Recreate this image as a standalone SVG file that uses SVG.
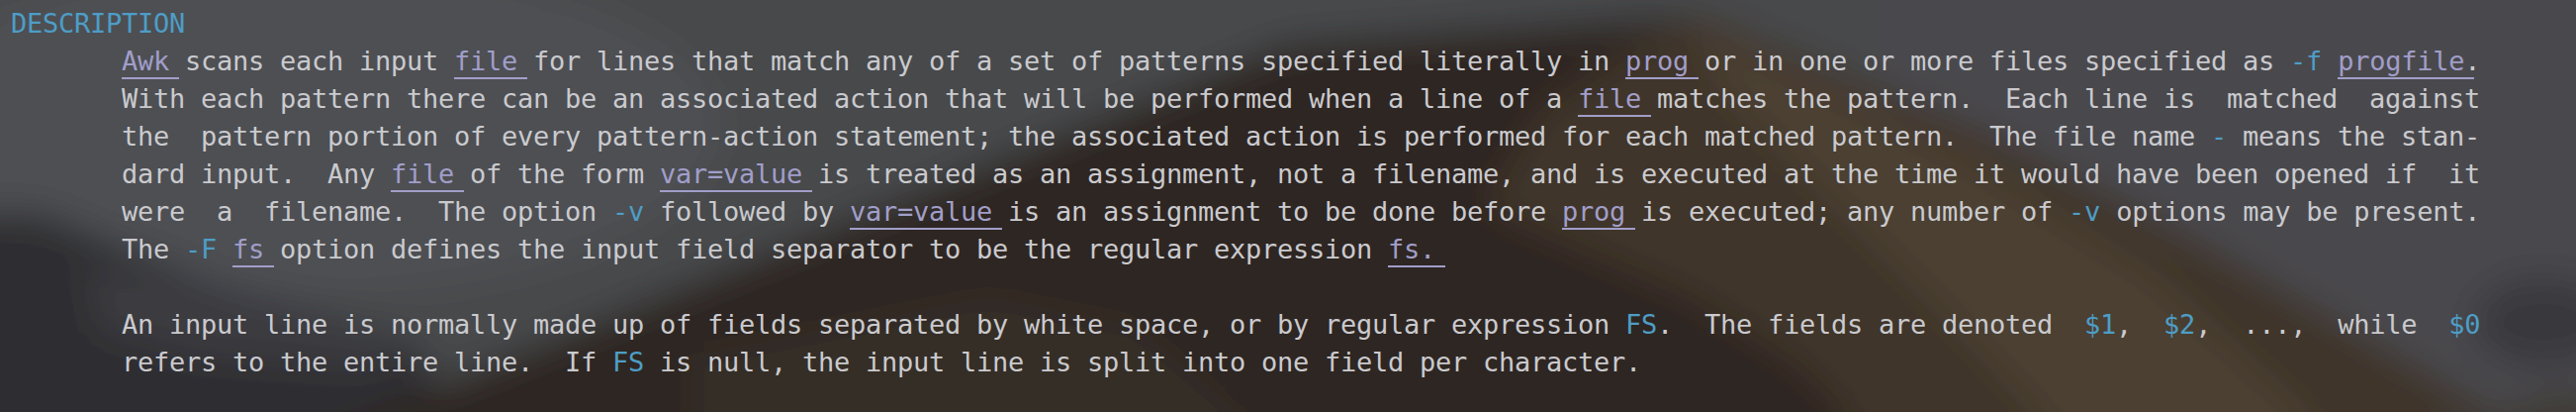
<svg xmlns="http://www.w3.org/2000/svg" width="2604" height="416" viewBox="0 0 2604 416">
<style>
  text { font-family: "DejaVu Sans Mono", "Liberation Mono", monospace; font-size: 27px; letter-spacing: -0.255px; fill: #cacace; white-space: pre; }
  .b { fill: #4e9dc6; }
  .u { fill: #a19ec9; }
  .ul line { stroke: #a19ec9; stroke-width: 2; }
</style>
<defs>
  <filter id="blur" x="-10%" y="-30%" width="120%" height="160%">
    <feGaussianBlur stdDeviation="18"/>
  </filter>
</defs>
<g id="backdrop" filter="url(#blur)">
  <rect x="-120" y="-120" width="2844" height="656" fill="#46484c"/>
  <ellipse cx="300" cy="130" rx="430" ry="170" fill="#4d4f53"/>
  <rect x="1900" y="-120" width="824" height="656" fill="#4a4a4d"/>
  <polygon points="-120,215 40,215 125,250 220,285 330,315 430,360 480,536 -120,536" fill="#2d2e31"/>
  <polygon points="85,270 200,280 320,312 415,340 380,372 200,360 100,335" fill="#3a3b3f"/>
  <polygon points="330,436 1302,45 1704,16 1732,20 2007,133 2204,233 2380,333 2521,416 2560,536 330,536" fill="#2d2723"/>
  <polygon points="700,360 1000,300 1150,330 1250,416 1250,536 700,536" fill="#352d27"/>
  <polygon points="1704,16 1732,20 2007,133 2204,233 2380,333 2521,416 2545,536 1885,536 1866,416 1817,367 1711,300 1556,233 1500,207 1560,110" fill="#3f3529"/>
  <polygon points="1718,28 1860,95 2007,170 2180,280 2330,416 2360,536 2160,536 2060,416 1950,300 1820,170 1740,90" fill="#4c4032"/>
  <ellipse cx="2570" cy="325" rx="70" ry="45" fill="#38393c"/>
  <polygon points="2440,440 2604,390 2724,536 2460,536" fill="#3f3a35"/>
</g>
<g id="heading"><text x="11" y="33" xml:space="preserve"><tspan class="b">DESCRIPTION</tspan></text></g>
<g id="para1-line1"><text x="123" y="71" xml:space="preserve"><tspan class="u">Awk</tspan> scans each input <tspan class="u">file</tspan> for lines that match any of a set of patterns specified literally in <tspan class="u">prog</tspan> or in one or more files specified as <tspan class="b">-f</tspan> <tspan class="u">progfile</tspan>.</text></g>
<g id="para1-line2"><text x="123" y="109" xml:space="preserve">With each pattern there can be an associated action that will be performed when a line of a <tspan class="u">file</tspan> matches the pattern.  Each line is  matched  against</text></g>
<g id="para1-line3"><text x="123" y="147" xml:space="preserve">the  pattern portion of every pattern-action statement; the associated action is performed for each matched pattern.  The file name <tspan class="b">-</tspan> means the stan-</text></g>
<g id="para1-line4"><text x="123" y="185" xml:space="preserve">dard input.  Any <tspan class="u">file</tspan> of the form <tspan class="u">var=value</tspan> is treated as an assignment, not a filename, and is executed at the time it would have been opened if  it</text></g>
<g id="para1-line5"><text x="123" y="223" xml:space="preserve">were  a  filename.  The option <tspan class="b">-v</tspan> followed by <tspan class="u">var=value</tspan> is an assignment to be done before <tspan class="u">prog</tspan> is executed; any number of <tspan class="b">-v</tspan> options may be present.</text></g>
<g id="para1-line6"><text x="123" y="261" xml:space="preserve">The <tspan class="b">-F</tspan> <tspan class="u">fs</tspan> option defines the input field separator to be the regular expression <tspan class="u">fs.</tspan></text></g>
<g id="para2-line1"><text x="123" y="337" xml:space="preserve">An input line is normally made up of fields separated by white space, or by regular expression <tspan class="b">FS</tspan>.  The fields are denoted  <tspan class="b">$1</tspan>,  <tspan class="b">$2</tspan>,  ...,  while  <tspan class="b">$0</tspan></text></g>
<g id="para2-line2"><text x="123" y="375" xml:space="preserve">refers to the entire line.  If <tspan class="b">FS</tspan> is null, the input line is split into one field per character.</text></g>
<g id="underlines" class="ul">
  <line x1="123" y1="79" x2="181" y2="79"/>
  <line x1="459" y1="79" x2="533" y2="79"/>
  <line x1="1643" y1="79" x2="1717" y2="79"/>
  <line x1="2363" y1="79" x2="2501" y2="79"/>
  <line x1="1595" y1="117" x2="1669" y2="117"/>
  <line x1="395" y1="193" x2="469" y2="193"/>
  <line x1="667" y1="193" x2="821" y2="193"/>
  <line x1="859" y1="231" x2="1013" y2="231"/>
  <line x1="1579" y1="231" x2="1653" y2="231"/>
  <line x1="235" y1="269" x2="277" y2="269"/>
  <line x1="1403" y1="269" x2="1461" y2="269"/>
</g>
</svg>
